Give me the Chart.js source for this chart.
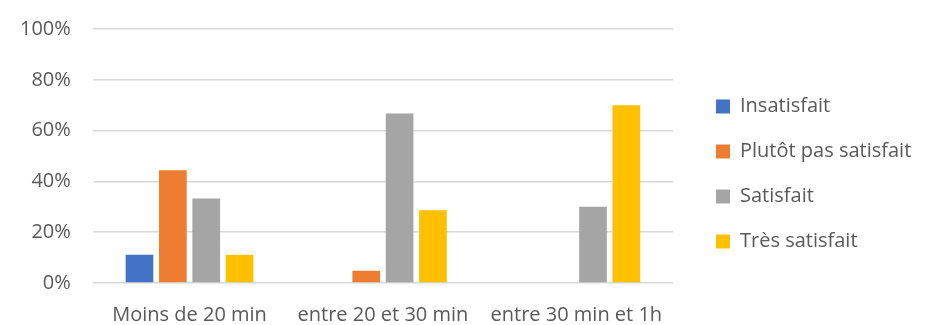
<!DOCTYPE html>
<html>
<head>
<meta charset="utf-8">
<script src="https://cdn.jsdelivr.net/npm/chart.js@4"></script>
<style>
  html, body { margin: 0; padding: 0; background: #fff; }
  #wrap { width: 933px; height: 325px; }
</style>
</head>
<body>
<div id="wrap"><canvas id="barChart" width="933" height="325"></canvas></div>
<script>
var categories = ['Moins de 20 min', 'entre 20 et 30 min', 'entre 30 min et 1h'];
var insatisfait = [11.1, 0, 0];
var plutotPas = [44.4, 4.8, 0];
var satisfait = [33.3, 66.7, 30];
var tresSatisfait = [11.1, 28.6, 70];
var yTicks = [0, 20, 40, 60, 80, 100];

var txt = '#595959';
var fontFamily = '"Open Sans", "Liberation Sans", sans-serif';

function serie(label, data, color) {
  return {
    label: label,
    data: data,
    backgroundColor: color,
    borderWidth: 0,
    categoryPercentage: 0.69,
    barPercentage: 0.83
  };
}

var barChartData = {
  labels: categories,
  datasets: [
    serie('Insatisfait', insatisfait, '#4472C4'),
    serie('Plutôt pas satisfait', plutotPas, '#ED7D31'),
    serie('Satisfait', satisfait, '#A5A5A5'),
    serie('Très satisfait', tresSatisfait, '#FFC000')
  ]
};

// decale la legende (ecart avec le graphe + un peu plus haut)
var legendShift = {
  id: 'legendShift',
  afterLayout: function (chart) {
    chart.legend.left += 18;
    chart.legend.right += 18;
    chart.legend.top -= 10;
    chart.legend.bottom -= 10;
  }
};

var barChartOptions = {
  responsive: false,
  animation: false,
  maintainAspectRatio: false,
  layout: { padding: { left: -2, right: 35, top: 29, bottom: -14 } },
  plugins: {
    tooltip: { enabled: false },
    legend: {
      position: 'right',
      align: 'center',
      labels: {
        color: txt,
        font: { family: fontFamily, size: 20 },
        boxWidth: 14,
        boxHeight: 14,
        padding: 25
      }
    }
  },
  scales: {
    x: {
      grid: { display: false },
      border: { display: false },
      ticks: { color: txt, font: { family: fontFamily, size: 20 }, padding: 12 }
    },
    y: {
      min: 0,
      max: 100,
      afterBuildTicks: function (axis) {
        axis.ticks = yTicks.map(function (v) { return { value: v }; });
      },
      afterFit: function (axis) {
        axis.paddingTop = 0;
      },
      grid: { color: '#D9D9D9', lineWidth: 1.5, drawTicks: false },
      border: { display: false },
      ticks: {
        color: txt,
        font: { family: fontFamily, size: 20 },
        padding: 22,
        callback: function (v) { return v + '%'; }
      }
    }
  }
};

var barChartCanvas = document.getElementById('barChart').getContext('2d');
var barChart = new Chart(barChartCanvas, {
  type: 'bar',
  data: barChartData,
  options: barChartOptions,
  plugins: [legendShift]
});
</script>
</body>
</html>
